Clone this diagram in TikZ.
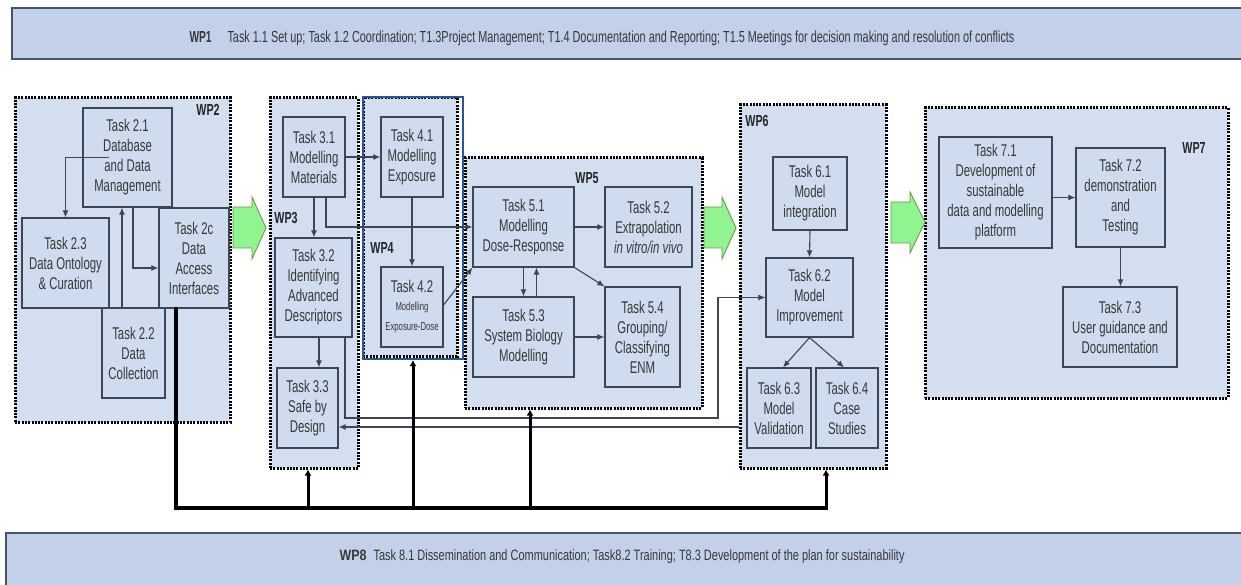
\documentclass[tikz,border=0pt]{standalone}
\usepackage{fontspec}
\usepackage{graphicx}
\setmainfont{Liberation Sans}
\newfontfamily\nar[FakeStretch=0.67]{Liberation Sans}
\newcommand\tf{\nar\fontsize{17}{20}\selectfont}
\newcommand\smallnar{\nar\fontsize{11.5}{12.5}\selectfont}
\usetikzlibrary{arrows.meta,calc}
\definecolor{barfill}{HTML}{C2D0EA}
\definecolor{barline}{HTML}{44546A}
\definecolor{ffill}{HTML}{D3DFF0}
\definecolor{tfill}{HTML}{CFDBEE}
\definecolor{tline}{HTML}{3E4656}
\definecolor{txt}{HTML}{383838}
\definecolor{wpblue}{HTML}{2E5597}
\definecolor{gfill}{HTML}{90F490}
\definecolor{gline}{HTML}{6E9A48}
\begin{document}
\begin{tikzpicture}[x=1pt,y=-1pt,
  task/.style={draw=tline, fill=tfill, line width=1.2pt, inner sep=0pt, align=center, text=txt, font=\tf},
  wpframe/.style={draw=black, fill=ffill, line width=3pt, dash pattern=on 2pt off 1.3pt, inner sep=0pt},
  wplabel/.style={font=\nar\bfseries\fontsize{16}{17}\selectfont, text=black!85},
  conn/.style={draw=tline, line width=1.1pt, -{Latex[length=7pt,width=6pt]}},
  plain/.style={draw=tline, line width=1.1pt},
  bus/.style={draw=black, line width=4pt},
  riser/.style={draw=black, line width=3pt, -{Latex[length=6pt,width=7pt]}},
  bar/.style={draw=barline, fill=barfill, line width=1.5pt, inner sep=0pt},
  garrow/.style={fill=gfill, draw=gline, line width=0.9pt}]
\useasboundingbox (0,0) rectangle (1241,585);
\fill[white] (0,0) rectangle (1241,585);

% ---- WP1 / WP8 bars
\node[bar, minimum width=1240pt, minimum height=51pt] (wp1) at (632,33.5) {};
\node[anchor=west, text=txt, font=\fontsize{16}{17}\selectfont] (wp1t) at (186,38)
  {\resizebox{22pt}{\height}{\textbf{WP1}}\hspace{16pt}\resizebox{787pt}{\height}{Task 1.1 Set up; Task 1.2 Coordination; T1.3Project Management; T1.4 Documentation and Reporting; T1.5 Meetings for decision making and resolution of conflicts}};
\node[bar, minimum width=1250pt, minimum height=60pt] (wp8) at (631,563) {};
\node[anchor=west, text=txt, font=\fontsize{15}{16}\selectfont] (wp8t) at (336,557)
  {\resizebox{27pt}{\height}{\textbf{WP8}}\hspace{7pt}\resizebox{531pt}{\height}{Task 8.1 Dissemination and Communication; Task8.2 Training; T8.3 Development of the plan for sustainability}};

% ---- frames
\node[wpframe, minimum width=215pt, minimum height=324pt] (wp2) at (122.5,260) {};
\node[wpframe, minimum width=88pt, minimum height=370pt] (wp3) at (314,283) {};
\node[wpframe, minimum width=237pt, minimum height=250pt] (wp5) at (583.5,283) {};
\node[wpframe, minimum width=94pt, minimum height=258pt] (wp4) at (410,227) {};
\node[draw=wpblue, line width=2.2pt, minimum width=100pt, minimum height=262pt, inner sep=0pt] (wp4b) at (413,228) {};
\node[wpframe, minimum width=146pt, minimum height=363pt] (wp6) at (813,286.5) {};
\node[wpframe, minimum width=303pt, minimum height=290pt] (wp7) at (1076.5,253) {};

% ---- green arrows
\draw[garrow] (233,207) -- (252,207) -- (252,197) -- (266,228) -- (252,259) -- (252,248) -- (233,248) -- cycle;
\draw[garrow] (704,207) -- (722,207) -- (722,197) -- (736,228) -- (722,259) -- (722,248) -- (704,248) -- cycle;
\draw[garrow] (891,202) -- (910,202) -- (910,192) -- (925,222) -- (910,253) -- (910,243) -- (891,243) -- cycle;

% ---- WP labels
\node[wplabel] (l2) at (208,110) {WP2};
\node[wplabel] (l3) at (286,218) {WP3};
\node[wplabel] (l4) at (382,248) {WP4};
\node[wplabel] (l5) at (587,178) {WP5};
\node[wplabel] (l6) at (757,121) {WP6};
\node[wplabel] (l7) at (1194,148) {WP7};

% ---- tasks
\node[task, minimum width=89pt, minimum height=99pt] (t21) at (127.5,157.5) {Task 2.1\\Database\\and Data\\Management};
\node[task, minimum width=87pt, minimum height=90pt] (t23) at (65.5,263) {Task 2.3\\Data Ontology\\\& Curation};
\node[task, minimum width=70pt, minimum height=100pt] (t2c) at (194,258) {Task 2c\\Data\\Access\\Interfaces};
\node[task, minimum width=63pt, minimum height=90pt] (t22) at (133.5,353) {Task 2.2\\Data\\Collection};

\node[task, minimum width=62pt, minimum height=80pt] (t31) at (314,157) {Task 3.1\\Modelling\\Materials};
\node[task, minimum width=77pt, minimum height=99pt] (t32) at (313.5,287.5) {Task 3.2\\Identifying\\Advanced\\Descriptors};
\node[task, minimum width=61pt, minimum height=80pt] (t33) at (307.5,408) {Task 3.3\\Safe by\\Design};

\node[task, minimum width=62pt, minimum height=80pt] (t41) at (412,157) {Task 4.1\\Modelling\\Exposure};
\node[task, minimum width=62pt, minimum height=80pt] (t42) at (412,307) {Task 4.2\\[-2pt]\smallnar Modelling\\\smallnar Exposure-Dose};

\node[task, minimum width=101pt, minimum height=80pt] (t51) at (523.5,227) {Task 5.1\\Modelling\\Dose-Response};
\node[task, minimum width=87pt, minimum height=80pt] (t52) at (648.5,227) {Task 5.2\\Extrapolation\\\textit{in vitro/in vivo}};
\node[task, minimum width=101pt, minimum height=80pt] (t53) at (523.5,337) {Task 5.3\\System Biology\\Modelling};
\node[task, minimum width=75pt, minimum height=100pt] (t54) at (642.5,337) {Task 5.4\\Grouping/\\Classifying\\ENM};

\node[task, minimum width=74pt, minimum height=73pt] (t61) at (810,193.5) {Task 6.1\\Model\\integration};
\node[task, minimum width=87pt, minimum height=79pt] (t62) at (809.5,297.5) {Task 6.2\\Model\\Improvement};
\node[task, minimum width=64pt, minimum height=80pt] (t63) at (779,408) {Task 6.3\\Model\\Validation};
\node[task, minimum width=62pt, minimum height=80pt] (t64) at (847,408) {Task 6.4\\Case\\Studies};

\node[task, minimum width=113pt, minimum height=111pt] (t71) at (995.5,192.5) {Task 7.1\\Development of\\sustainable\\data and modelling\\platform};
\node[task, minimum width=89pt, minimum height=99pt] (t72) at (1120.5,197.5) {Task 7.2\\demonstration\\and\\Testing};
\node[task, minimum width=114pt, minimum height=80pt] (t73) at (1120,327) {Task 7.3\\User guidance and\\Documentation};

% ---- connectors WP2
\draw[conn] ([xshift=27pt]t21.west) -| (t23.north);
\draw[conn] ([xshift=5.5pt]t21.south) |- ([yshift=-10pt]t2c.west);
\draw[conn] ([xshift=-11.5pt]t22.north) -- ([xshift=-11.5pt]t22.north |- t21.south);

% ---- WP3 / WP4
\draw[conn] (t31.east) -- (t41.west);
\draw[conn] (t31.south) -- (t31.south |- t32.north);
\draw[conn] ([xshift=12pt]t31.south) |- (t51.west);
\draw[conn] (t41.south) -- (t42.north);
\draw[conn] ([yshift=2pt]t42.east) -- (t51.south west);
\draw[conn] ([xshift=5.5pt]t32.south) -- ([xshift=5.5pt]t32.south |- t33.north);
\coordinate (r1) at (718,418);
\draw[conn] ([xshift=31.5pt]t32.south) |- (r1) |- (t62.west);
\draw[conn] ([yshift=-19pt]t63.west -| wp6.west) -- ([yshift=-19pt]t63.west -| t33.east);

% ---- WP5
\draw[conn] (t51.east) -- (t52.west);
\draw[conn] (t51.south) -- (t53.north);
\draw[conn] ([xshift=13pt]t53.north) -- ([xshift=13pt]t51.south);
\draw[conn] (t51.south east) -- (t54.north west);
\draw[conn] (t53.east) -- (t53.east -| t54.west);

% ---- WP6
\draw[conn] (t61.south) -- (t62.north);
\draw[conn] (t62.south) -- ([xshift=4pt]t63.north);
\draw[conn] (t62.south) -- ([xshift=-3pt]t64.north);

% ---- WP7
\draw[conn] (t72.west -| t71.east) -- (t72.west);
\draw[conn] (t72.south) -- (t72.south |- t73.north);

% ---- WP8 bus
\coordinate (busR) at (826,508);
\coordinate (b3) at (308,508);
\coordinate (b4) at (413,508);
\coordinate (b5) at (530,508);
\draw[bus, line cap=rect] ([xshift=-18pt]t2c.south) |- (busR);
\draw[riser] (b3) -- (b3 |- wp3.south);
\draw[riser] (b4) -- (b4 |- wp4b.south);
\draw[riser] (b5) -- (b5 |- wp5.south);
\draw[riser] (busR) -- (busR |- wp6.south);
\end{tikzpicture}
\end{document}
